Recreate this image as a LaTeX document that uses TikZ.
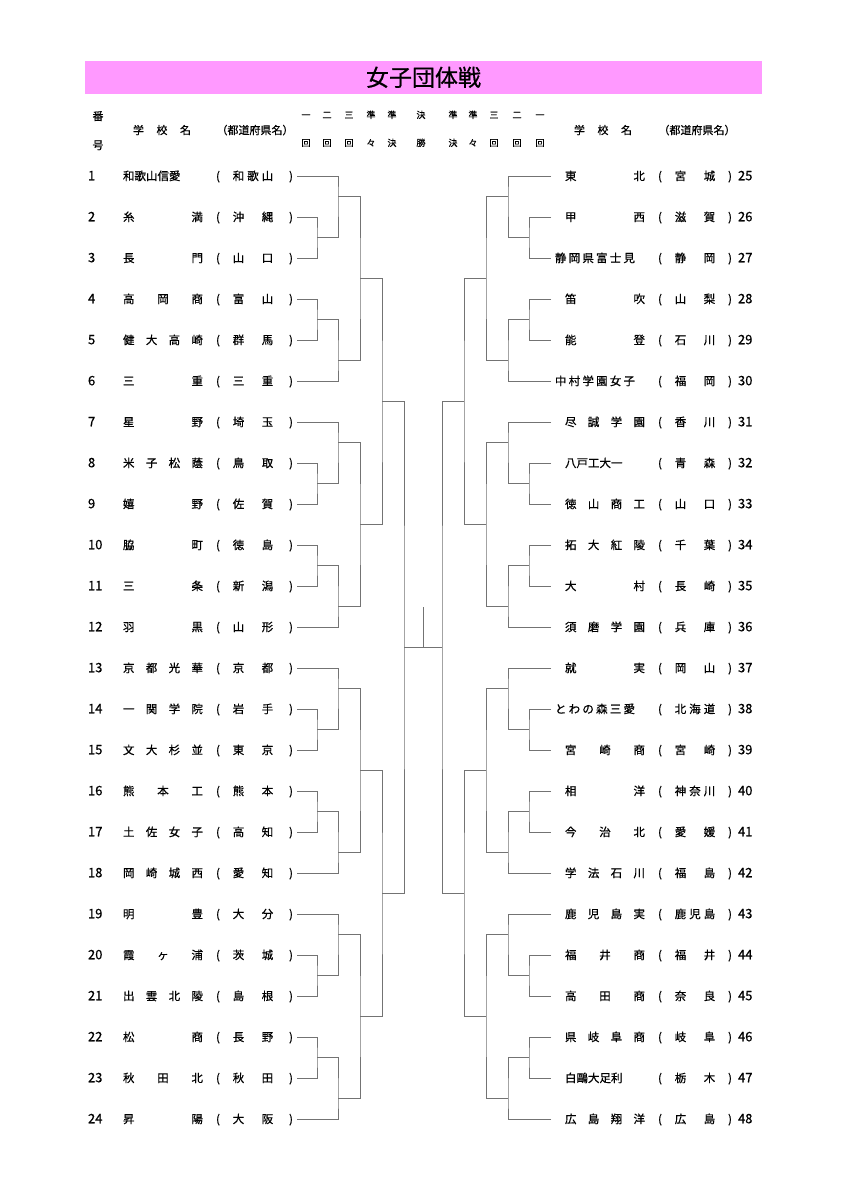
\documentclass[tikz,border=0pt]{standalone}
\usepackage{fontspec}
\usepackage{xcolor}
\usetikzlibrary{positioning}
\newfontfamily\jpfont{Noto Sans CJK JP}[FakeBold=0.6]
\definecolor{titlepink}{RGB}{255,153,255}
\definecolor{bracketgray}{RGB}{115,115,115}

\newsavebox\namebox
\newcommand\spreadit[1]{\spreadstep#1\spreadend}
\def\spreadstep#1#2\spreadend{#1\ifx\relax#2\relax\else\hfil\spreadstep#2\spreadend\fi}
\newcommand\schoolname[1]{\sbox\namebox{#1}%
  \ifdim\wd\namebox<50pt \makebox[80pt][s]{\spreadit{#1}}%
  \else\ifdim\wd\namebox<62pt \usebox\namebox
  \else\hspace*{-10pt}\makebox[80pt][s]{\spreadit{#1}}\fi\fi}
\newcommand\prefname[1]{\makebox[40.5pt][s]{\spreadit{#1}}}

\begin{document}
\begin{tikzpicture}[x=1pt,y=-1pt,
    every node/.style={inner sep=0pt,outer sep=0pt,text height=10pt,text depth=1.5pt,
                       font=\jpfont\fontsize{11.5}{13}\selectfont},
    num/.style={anchor=west,font=\jpfont\fontsize{13}{14}\selectfont},
    school/.style={anchor=west},
    head/.style={font=\jpfont\fontsize{11}{12}\selectfont},
    round/.style={font=\jpfont\fontsize{9}{10}\selectfont,text height=7.5pt,text depth=1pt},
    bracket/.style={draw=bracketgray,line width=0.9pt}]

    \fill[white] (0,0) rectangle (848,1200);
    \useasboundingbox (0,0) rectangle (848,1200);

    \fill[titlepink] (85,61) rectangle (762,94);
    \node[font=\jpfont\fontsize{23}{26}\selectfont,text height=20pt,text depth=3pt] (title) at (423.5,77.5) {女子団体戦};

    \node[head] (ban) at (98,116) {番};
    \node[head] (go) [below=17.5pt of ban] {号};
    \node[head] (schoolL) at (162,130) {\makebox[58pt][s]{\spreadit{学校名}}};
    \node[head] (prefL) at (255,130) {（都道府県名）};
    \node[head] (schoolR) at (603,130) {\makebox[58pt][s]{\spreadit{学校名}}};
    \node[head] (prefR) at (697,130) {（都道府県名）};

    \foreach \x/\t/\b [count=\j] in {306/一/回,327/二/回,349/三/回,371/準/々,392/準/決,421/決/勝,
                                    453/準/決,473/準/々,494/三/回,517/二/回,540/一/回}{
        \node[round] (rt\j) at (\x,115) {\t};
        \node[round] (rb\j) [below=19.5pt of rt\j] {\b};
    }

    \foreach \sch/\prf [count=\i] in {和歌山信愛/和歌山,糸満/沖縄,長門/山口,高岡商/富山,健大高崎/群馬,三重/三重,
                                      星野/埼玉,米子松蔭/鳥取,嬉野/佐賀,脇町/徳島,三条/新潟,羽黒/山形,
                                      京都光華/京都,一関学院/岩手,文大杉並/東京,熊本工/熊本,土佐女子/高知,岡崎城西/愛知,
                                      明豊/大分,霞ヶ浦/茨城,出雲北陵/島根,松商/長野,秋田北/秋田,昇陽/大阪}{
        \pgfmathsetmacro\yy{176+41*(\i-1)}
        \node[num] (n\i) at (88,\yy) {\i};
        \node[school] (s\i) at (123,\yy) {\expandafter\schoolname\expandafter{\sch}};
        \node (o\i) at (218,\yy) {(};
        \node (p\i) at (253,\yy) {\expandafter\prefname\expandafter{\prf}};
        \node (c\i) at (291,\yy) {)};
        \coordinate (row\i) at (297,\yy);
    }

    \foreach \sch/\prf [count=\i from 25] in {東北/宮城,甲西/滋賀,静岡県富士見/静岡,笛吹/山梨,能登/石川,中村学園女子/福岡,
                                      尽誠学園/香川,八戸工大一/青森,徳山商工/山口,拓大紅陵/千葉,大村/長崎,須磨学園/兵庫,
                                      就実/岡山,とわの森三愛/北海道,宮崎商/宮崎,相洋/神奈川,今治北/愛媛,学法石川/福島,
                                      鹿児島実/鹿児島,福井商/福井,高田商/奈良,県岐阜商/岐阜,白鷗大足利/栃木,広島翔洋/広島}{
        \pgfmathsetmacro\yy{176+41*(\i-25)}
        \coordinate (row\i) at (551,\yy);
        \node[school] (s\i) at (565,\yy) {\expandafter\schoolname\expandafter{\sch}};
        \node (o\i) at (660,\yy) {(};
        \node (p\i) at (695,\yy) {\expandafter\prefname\expandafter{\prf}};
        \node (c\i) at (730,\yy) {)};
        \node[num] (n\i) at (738,\yy) {\i};
    }

    \foreach \side/\d/\o/\n in {L/1/0/0,R/-1/846/24}{
        \foreach \g in {0,...,3}{
            \pgfmathtruncatemacro\rowA{\n+6*\g+1}
            \pgfmathtruncatemacro\rowB{\rowA+1}
            \pgfmathtruncatemacro\rowC{\rowA+2}
            \pgfmathtruncatemacro\rowD{\rowA+3}
            \pgfmathtruncatemacro\rowE{\rowA+4}
            \pgfmathtruncatemacro\rowF{\rowA+5}
            \pgfmathsetmacro\k{12*\g}
            \coordinate (\side a\g) at ({\o+(\d)*317},{176+20.5*(\k+3)});
            \coordinate (\side b\g) at ({\o+(\d)*338},{176+20.5*(\k+1)});
            \coordinate (\side c\g) at ({\o+(\d)*317},{176+20.5*(\k+7)});
            \coordinate (\side d\g) at ({\o+(\d)*338},{176+20.5*(\k+9)});
            \coordinate (\side e\g) at ({\o+(\d)*360},{176+20.5*(\k+5)});
            \draw[bracket] (row\rowB) -| (\side a\g) |- (row\rowC);
            \draw[bracket] (row\rowA) -| (\side b\g) |- (\side a\g);
            \draw[bracket] (row\rowD) -| (\side c\g) |- (row\rowE);
            \draw[bracket] (row\rowF) -| (\side d\g) |- (\side c\g);
            \draw[bracket] (\side b\g) -| (\side e\g) |- (\side d\g);
        }
        \foreach \h in {0,1}{
            \pgfmathtruncatemacro\gA{2*\h}
            \pgfmathtruncatemacro\gB{2*\h+1}
            \coordinate (\side f\h) at ({\o+(\d)*382},{176+20.5*(24*\h+11)});
            \draw[bracket] (\side e\gA) -| (\side f\h) |- (\side e\gB);
        }
        \coordinate (\side g) at ({\o+(\d)*404},{176+20.5*23});
        \draw[bracket] (\side f0) -| (\side g) |- (\side f1);
    }

    \coordinate (final) at (423,{176+20.5*23});
    \coordinate (champ) at (423,{176+20.5*21});
    \draw[bracket] (Lg) -- (Rg);
    \draw[bracket] (final) -- (champ);
\end{tikzpicture}
\end{document}
